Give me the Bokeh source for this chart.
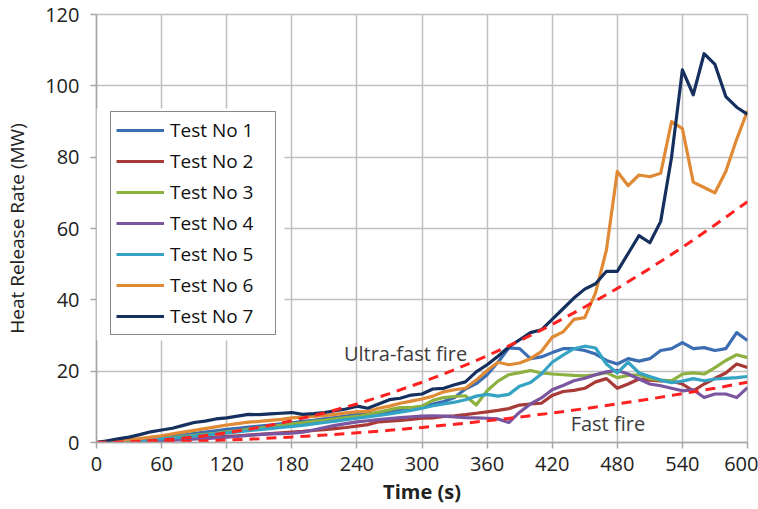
from bokeh.plotting import figure
from bokeh.models import Legend, LegendItem, Label, BoxAnnotation, FixedTicker, Range1d
from bokeh.embed import file_html
from bokeh.resources import INLINE

# ---------------- data ----------------
time_s = list(range(0, 601, 10))

test1 = [0.0, 0.2, 0.4, 0.6, 0.9, 1.2, 1.5, 1.8, 2.1, 2.5, 2.9, 3.3, 3.7, 4.0, 4.3, 4.6,
         4.9, 5.2, 5.5, 5.9, 6.2, 6.6, 7.0, 7.4, 7.8, 8.0, 8.3, 8.7, 9.2, 9.6, 10.0, 10.8,
         11.5, 12.6, 15.0, 16.5, 19.0, 22.5, 26.5, 26.3, 23.5, 24.0, 25.2, 26.3, 26.3, 25.8,
         24.8, 23.0, 22.0, 23.5, 22.8, 23.5, 25.8, 26.3, 28.0, 26.3, 26.6, 25.8, 26.3, 30.8, 28.6]
test2 = [0.0, 0.1, 0.2, 0.3, 0.4, 0.5, 0.6, 0.8, 0.9, 1.1, 1.3, 1.5, 1.7, 1.9, 2.1, 2.3,
         2.5, 2.7, 2.9, 3.1, 3.4, 3.6, 3.9, 4.2, 4.6, 5.0, 5.8, 6.0, 6.2, 6.5, 6.8, 6.9,
         7.3, 7.5, 7.8, 8.2, 8.6, 9.0, 9.5, 10.5, 10.8, 11.0, 13.2, 14.3, 14.6, 15.2,
         17.0, 17.9, 15.2, 16.4, 17.8, 17.5, 17.3, 17.2, 16.4, 14.5, 16.4, 18.0, 19.5, 22.0, 21.0]
test3 = [0.0, 0.1, 0.3, 0.5, 0.7, 0.9, 1.1, 1.4, 1.7, 2.0, 2.3, 2.6, 3.0, 3.3, 3.7, 4.0,
         4.4, 4.8, 5.2, 5.5, 5.9, 6.2, 6.6, 7.0, 7.3, 7.8, 8.5, 9.2, 9.8, 9.8, 10.2, 11.8,
         12.6, 12.9, 13.1, 10.5, 14.5, 17.2, 19.0, 19.6, 20.2, 19.5, 19.2, 19.0, 18.8, 18.7,
         19.0, 19.6, 18.2, 18.8, 19.0, 17.9, 17.5, 17.3, 19.2, 19.5, 19.2, 21.0, 23.0, 24.6, 23.8]
test4 = [0.0, 0.1, 0.2, 0.3, 0.4, 0.5, 0.6, 0.7, 0.8, 1.0, 1.1, 1.3, 1.5, 1.7, 2.0, 2.2,
         2.4, 2.5, 2.6, 2.9, 3.5, 4.2, 4.8, 5.3, 5.8, 6.1, 6.4, 6.7, 7.0, 7.2, 7.4, 7.5,
         7.4, 7.2, 7.0, 6.9, 6.8, 6.6, 5.6, 8.5, 10.8, 12.5, 14.8, 16.0, 17.3, 18.0,
         19.0, 19.8, 20.2, 19.2, 17.8, 16.4, 15.9, 15.2, 14.5, 14.8, 12.6, 13.6, 13.6, 12.6, 15.4]
test5 = [0.0, 0.1, 0.2, 0.4, 0.6, 0.8, 1.0, 1.2, 1.5, 1.8, 2.1, 2.4, 2.7, 3.0, 3.3, 3.6,
         3.9, 4.2, 4.5, 4.8, 5.2, 5.6, 6.0, 6.4, 6.8, 7.2, 7.6, 8.0, 8.5, 9.0, 9.6, 10.3,
         10.8, 11.3, 12.0, 13.0, 13.5, 13.0, 13.5, 15.8, 16.8, 19.2, 22.5, 24.5, 26.3, 27.0,
         26.5, 22.0, 19.5, 22.5, 19.5, 18.5, 17.5, 16.8, 17.2, 17.9, 17.3, 17.8, 18.0, 18.2, 18.5]
test6 = [0.0, 0.2, 0.5, 0.8, 1.1, 1.5, 1.9, 2.4, 2.9, 3.4, 3.9, 4.4, 4.9, 5.3, 5.7, 5.9,
         6.2, 6.5, 6.9, 7.1, 7.3, 7.6, 7.9, 8.3, 8.6, 8.7, 9.6, 10.2, 11.0, 11.6, 12.2, 13.0,
         14.2, 14.8, 15.2, 17.5, 20.2, 22.5, 21.8, 22.3, 23.5, 25.5, 29.5, 31.0, 34.5, 35.0,
         42.0, 54.0, 76.0, 72.0, 75.0, 74.5, 75.5, 90.0, 88.0, 73.0, 71.5, 70.0, 76.0, 85.0, 93.0]
test7 = [0.0, 0.5, 1.0, 1.5, 2.2, 3.0, 3.5, 4.0, 4.8, 5.6, 6.0, 6.6, 6.9, 7.4, 7.9, 7.8,
         8.0, 8.2, 8.4, 7.9, 8.1, 8.4, 8.9, 9.4, 10.2, 9.6, 10.8, 12.0, 12.4, 13.3, 13.6, 15.0,
         15.2, 16.2, 17.0, 19.8, 21.8, 24.2, 26.8, 28.8, 30.8, 31.6, 34.5, 37.5, 40.5, 43.0,
         44.5, 48.0, 48.0, 53.0, 58.0, 56.0, 62.0, 80.0, 104.5, 97.5, 109.0, 106.0, 97.0, 94.0, 92.0]

design_time_s = [0, 30, 60, 90, 120, 150, 180, 210, 240, 270, 300, 330, 360, 390, 420, 450,
                 480, 510, 540, 570, 600]
ultra_fast = [0.0, 0.17, 0.68, 1.52, 2.70, 4.22, 6.08, 8.27, 10.8, 13.7, 16.9, 20.4, 24.3,
              28.5, 33.1, 38.0, 43.2, 48.8, 54.7, 61.0, 67.5]
fast = [0.0, 0.04, 0.17, 0.38, 0.68, 1.06, 1.52, 2.07, 2.70, 3.42, 4.22, 5.11, 6.08, 7.13,
        8.27, 9.50, 10.8, 12.2, 13.7, 15.2, 16.9]

series_names = ["Test No 1", "Test No 2", "Test No 3", "Test No 4", "Test No 5", "Test No 6", "Test No 7"]
x_ticks = [0, 60, 120, 180, 240, 300, 360, 420, 480, 540, 600]
y_ticks = [0, 20, 40, 60, 80, 100, 120]

# ---------------- styling ----------------
colors = ["#3b6db3", "#a83a38", "#8cb140", "#7a55a0", "#34a3c4", "#e08a35", "#15305e"]
FONT = "Open Sans"
TXT = "#222222"
GRID = "#bfbfbf"

p = figure(width=758, height=509, output_backend="svg", toolbar_location=None,
           x_range=Range1d(0, 600), y_range=Range1d(0, 120),
           min_border_left=96, min_border_right=11, min_border_top=14, min_border_bottom=67)
p.background_fill_color = "white"
p.border_fill_color = "white"
p.outline_line_color = GRID
p.outline_line_width = 1.5

p.xaxis.ticker = FixedTicker(ticks=x_ticks)
p.yaxis.ticker = FixedTicker(ticks=y_ticks)
p.xgrid.ticker = FixedTicker(ticks=x_ticks)
p.ygrid.ticker = FixedTicker(ticks=y_ticks)
for g in (p.xgrid, p.ygrid):
    g.grid_line_color = GRID
    g.grid_line_width = 1.5

for ax in (p.xaxis, p.yaxis):
    ax.axis_line_color = "#a6a6a6"
    ax.axis_line_width = 1.5
    ax.major_tick_line_color = "#a6a6a6"
    ax.major_tick_line_width = 1.5
    ax.major_tick_out = 6
    ax.major_tick_in = 0
    ax.minor_tick_line_color = None
    ax.major_label_text_font = FONT
    ax.major_label_text_font_size = "20px"
    ax.major_label_text_color = TXT
    ax.axis_label_text_font = FONT
    ax.axis_label_text_color = TXT

p.yaxis.major_label_standoff = 11
p.xaxis.major_label_standoff = 8
p.yaxis.axis_label = "Heat Release Rate (MW)"
p.yaxis.axis_label_text_font_size = "19px"
p.yaxis.axis_label_text_font_style = "normal"
p.yaxis.axis_label_standoff = 12
p.xaxis.axis_label = "Time (s)"
p.xaxis.axis_label_text_font_size = "20px"
p.xaxis.axis_label_text_font_style = "bold"
p.xaxis.axis_label_standoff = 4

series = [test1, test2, test3, test4, test5, test6, test7]
renderers = []
for name, ys, c in zip(series_names, series, colors):
    r = p.line(time_s, ys, line_color=c, line_width=3.2, line_join="round")
    renderers.append(r)

dash_color = "#ff2020"
p.line(design_time_s, ultra_fast, line_color=dash_color, line_width=3, line_dash="10 7")
p.line(design_time_s, fast, line_color=dash_color, line_width=3, line_dash="10 7")

p.add_layout(Label(x=228, y=25, text="Ultra-fast fire", text_baseline="middle",
                   text_font=FONT, text_font_size="20px", text_color="#3c3c3c"))
p.add_layout(Label(x=437, y=5.3, text="Fast fire", text_baseline="middle",
                   text_font=FONT, text_font_size="20px", text_color="#3c3c3c"))

# white area behind the legend (hides the grid lines around the box)
p.add_layout(BoxAnnotation(left=96, right=284, top=108, bottom=340,
                           left_units="canvas", right_units="canvas",
                           top_units="canvas", bottom_units="canvas",
                           fill_color="white", fill_alpha=1.0, line_color=None))

legend = Legend(items=[LegendItem(label=n, renderers=[r]) for n, r in zip(series_names, renderers)],
                location=(14, 107), orientation="vertical",
                border_line_color="#111111", border_line_width=1.5,
                background_fill_color="white", background_fill_alpha=1.0,
                padding=5, spacing=5, margin=0,
                label_height=22, glyph_height=22, glyph_width=48, label_standoff=6,
                label_width=100,
                label_text_font=FONT, label_text_font_size="19px", label_text_color="#111111")
p.add_layout(legend)

open("out.html", "w").write(file_html(p, INLINE))
